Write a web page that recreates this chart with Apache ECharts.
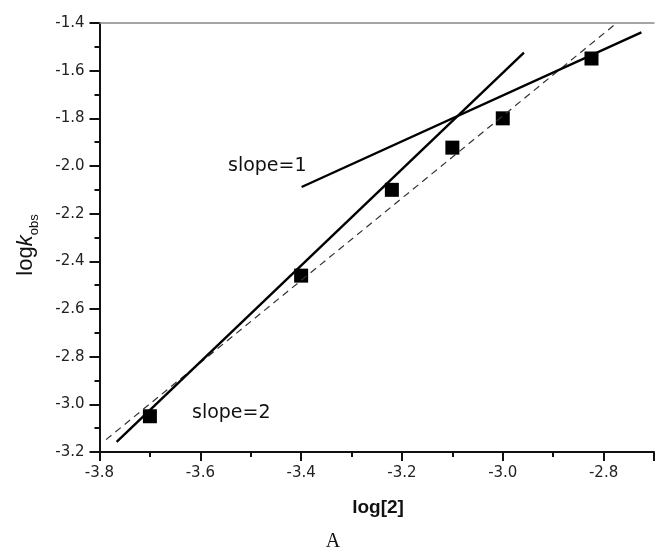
<!DOCTYPE html>
<html>
<head>
<meta charset="utf-8">
<script src="https://cdn.jsdelivr.net/npm/echarts@6/dist/echarts.min.js"></script>
<style>html,body{margin:0;padding:0;background:#fff;}#c{width:657px;height:554px;}</style>
</head>
<body>
<div id="c"></div>
<script>
// Data
const pointsX = [-3.70, -3.40, -3.22, -3.10, -3.00, -2.824];
const pointsY = [-3.05, -2.46, -2.10, -1.923, -1.80, -1.549];
const slope2X = [-3.766, -2.958];
const slope2Y = [-3.158, -1.524];
const slope1X = [-3.399, -2.725];
const slope1Y = [-2.088, -1.439];
const dashX = [-3.787, -2.774];
const dashY = [-3.148, -1.40];
const xTicks = [-3.8, -3.6, -3.4, -3.2, -3.0, -2.8];
const yTicks = [-1.4, -1.6, -1.8, -2.0, -2.2, -2.4, -2.6, -2.8, -3.0, -3.2];

const zip = (a, b) => a.map((v, i) => [v, b[i]]);
const fmt = v => (Math.round(v * 10) / 10).toFixed(1);

const chart = echarts.init(document.getElementById('c'), null, {renderer: 'canvas'});
const font = '"DejaVu Sans", Verdana, sans-serif';
const afont = '"Liberation Sans", Arial, sans-serif';
chart.setOption({
  animation: false,
  backgroundColor: '#fff',
  grid: {left: 99.5, top: 23, right: -2.2, bottom: 102, containLabel: false},
  xAxis: [{
    type: 'value', min: -3.8, max: -2.7, interval: 0.2, position: 'bottom',
    axisLine: {show: true, onZero: false, lineStyle: {color: '#111', width: 2}},
    axisTick: {show: true, length: 9, lineStyle: {color: '#111', width: 2}},
    minorTick: {show: true, splitNumber: 2, length: 5, lineStyle: {color: '#111', width: 2}},
    splitLine: {show: false},
    axisLabel: {margin: 14, fontSize: 15, color: '#222', fontFamily: font,
      formatter: v => xTicks.some(t => Math.abs(t - v) < 1e-6) ? fmt(v) : ''}
  }, {
    type: 'value', min: -3.8, max: -2.7, position: 'top',
    axisLine: {show: true, onZero: false, lineStyle: {color: '#888', width: 1.5}},
    axisTick: {show: false}, axisLabel: {show: false}, splitLine: {show: false}
  }],
  yAxis: {
    type: 'value', min: -3.2, max: -1.4, interval: 0.2,
    axisLine: {show: true, onZero: false, lineStyle: {color: '#111', width: 2}},
    axisTick: {show: true, length: 10, lineStyle: {color: '#111', width: 2}},
    minorTick: {show: true, splitNumber: 2, length: 5, lineStyle: {color: '#111', width: 2}},
    splitLine: {show: false},
    axisLabel: {margin: 15, fontSize: 15, color: '#222', fontFamily: font,
      formatter: v => yTicks.some(t => Math.abs(t - v) < 1e-6) ? fmt(v) : ''}
  },
  series: [
    {type: 'line', data: zip(dashX, dashY), symbol: 'none', silent: true,
      lineStyle: {color: '#333', width: 1.2, type: [7, 5]}},
    {type: 'line', data: zip(slope2X, slope2Y), symbol: 'none', silent: true,
      lineStyle: {color: '#000', width: 2.4}},
    {type: 'line', data: zip(slope1X, slope1Y), symbol: 'none', silent: true,
      lineStyle: {color: '#000', width: 2.4}},
    {type: 'scatter', data: zip(pointsX, pointsY), symbol: 'rect', symbolSize: 14,
      itemStyle: {color: '#000', opacity: 1}}
  ],
  graphic: [
    {type: 'text', x: 228, y: 166, style: {text: 'slope=1', font: '19px ' + font, fill: '#111', verticalAlign: 'middle'}},
    {type: 'text', x: 192, y: 413, style: {text: 'slope=2', font: '19px ' + font, fill: '#111', verticalAlign: 'middle'}},
    {type: 'text', x: 24, y: 245, rotation: Math.PI / 2,
      style: {text: '{a|log}{b|k}{c|obs}', align: 'center', verticalAlign: 'middle',
        rich: {
          a: {fontSize: 22, fontFamily: afont, fill: '#111', lineHeight: 26, verticalAlign: 'bottom'},
          b: {fontSize: 22, fontFamily: afont, fontStyle: 'italic', fill: '#111', lineHeight: 26, verticalAlign: 'bottom'},
          c: {fontSize: 13, fontFamily: afont, fill: '#111', verticalAlign: 'bottom', lineHeight: 26, padding: [0, 0, -4, 0]}
        }}},
    {type: 'text', x: 378, y: 508,
      style: {text: '{a|log[}{b|2}{a|]}', align: 'center', verticalAlign: 'middle',
        rich: {
          a: {fontSize: 19, fontFamily: afont, fill: '#111', fontWeight: 'bold'},
          b: {fontSize: 19, fontFamily: afont, fill: '#111', fontWeight: 'bold'}
        }}},
    {type: 'text', x: 333, y: 542,
      style: {text: 'A', align: 'center', verticalAlign: 'middle', font: '20px "Liberation Serif", "Times New Roman", serif', fill: '#111'}}
  ]
});
</script>
</body>
</html>
